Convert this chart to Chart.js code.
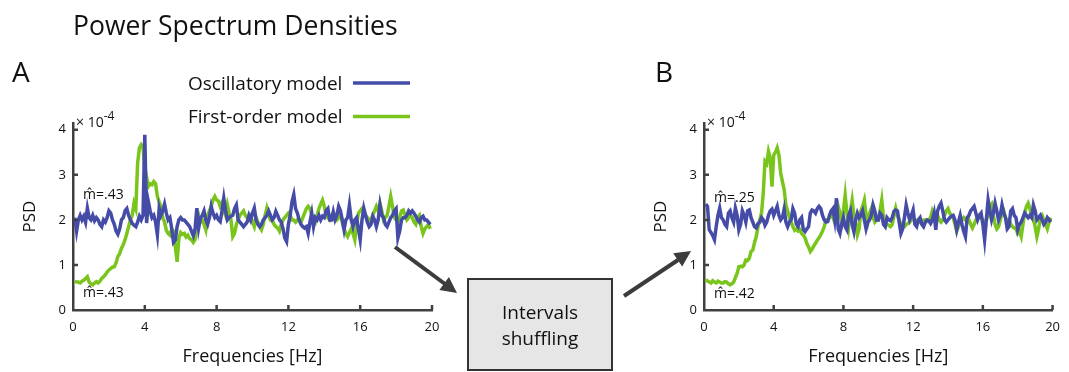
<!DOCTYPE html>
<html>
<head>
<meta charset="utf-8">
<script src="https://cdn.jsdelivr.net/npm/chart.js@4.4.0/dist/chart.umd.min.js"></script>
<style>
  html, body { margin: 0; padding: 0; background: #fff; }
  #page { position: relative; width: 1069px; height: 372px; overflow: hidden; font-family: 'Open Sans', sans-serif; }
  .panel { position: absolute; top: 100px; }
  #panelA { left: 0; }
  #panelB { left: 631px; }
  #overlay { position: absolute; left: 0; top: 0; pointer-events: none; }
  #overlay text { font-family: 'Open Sans', sans-serif; fill: #111; }
</style>
</head>
<body>
<div id="page">
  <div class="panel" id="panelA"><canvas id="chartA" width="460" height="272"></canvas></div>
  <div class="panel" id="panelB"><canvas id="chartB" width="438" height="272"></canvas></div>
  <svg id="overlay" width="1069" height="372">
    <text x="73" y="35" font-size="26.5">Power Spectrum Densities</text>
    <text x="12" y="82" font-size="28">A</text>
    <text x="655" y="82" font-size="28">B</text>

    <text x="188" y="90" font-size="19">Oscillatory model</text>
    <line x1="353" y1="83" x2="410" y2="83" stroke="#454ca8" stroke-width="3.5"/>
    <text x="188" y="123" font-size="19">First-order model</text>
    <line x1="353" y1="116.5" x2="410" y2="116.5" stroke="#7ac51c" stroke-width="3.5"/>

    <text x="76" y="127" font-size="14">× 10<tspan dy="-7" font-size="12">-4</tspan></text>
    <text x="707" y="127" font-size="14">× 10<tspan dy="-7" font-size="12">-4</tspan></text>

    <text x="83" y="199" font-size="14">m&#770;=.43</text>
    <text x="83" y="297" font-size="14">m&#770;=.43</text>
    <text x="714" y="202" font-size="14">m&#770;=.25</text>
    <text x="714" y="298" font-size="14">m&#770;=.42</text>

    <rect x="468" y="279" width="144" height="91" fill="#e6e6e6" stroke="#333" stroke-width="2"/>
    <text x="540" y="319" font-size="19" text-anchor="middle">Intervals</text>
    <text x="540" y="345" font-size="19" text-anchor="middle">shuffling</text>

    <line x1="395" y1="247" x2="445" y2="284" stroke="#3c3c3c" stroke-width="4"/>
    <polygon points="457,293 439.4,289.9 448.9,277.0" fill="#3c3c3c"/>
    <line x1="624" y1="296" x2="678" y2="260" stroke="#3c3c3c" stroke-width="4"/>
    <polygon points="691,251 682.2,266.6 673.2,253.3" fill="#3c3c3c"/>
  </svg>
</div>
<script>
// PSD values (x 10^-4), one value every 0.1 Hz from 0.1 Hz to 19.9 Hz
const oscA = [
  2.05, 1.75, 2.0, 2.1, 2.0, 2.08, 1.95, 2.26, 2.05, 2.0,
  2.1, 1.98, 2.05, 2.0, 1.9, 1.85, 2.0, 1.95, 2.05, 2.2,
  2.15, 2.0, 1.9, 1.75, 1.68, 1.8, 2.0, 2.05, 2.2, 2.25,
  2.1, 2.0, 1.92, 1.88, 1.85, 1.95, 2.08, 2.0, 2.1, 3.89,
  1.93, 2.4, 2.2, 2.05, 2.1, 1.95, 1.67, 2.26, 2.1, 2.2,
  2.35, 2.15, 2.0, 2.05, 1.8, 1.5, 1.55, 1.85, 2.0, 2.05,
  2.0, 2.0, 1.95, 1.9, 1.85, 1.75, 1.65, 1.8, 2.26, 1.82,
  2.04, 2.1, 2.2, 2.0, 1.9, 2.05, 2.3, 2.15, 2.05, 2.1,
  2.0, 1.96, 2.2, 2.48, 2.2, 2.0, 2.05, 2.08, 2.1, 2.25,
  2.33, 2.0, 1.95, 1.9, 1.85, 1.9, 1.95, 2.1, 2.0, 2.15,
  2.26, 2.0, 1.9, 1.85, 1.9, 2.0, 2.05, 2.1, 2.2, 2.1,
  2.0, 2.05, 2.19, 2.1, 2.0, 1.95, 1.8, 1.6, 1.52, 1.9,
  2.1, 2.4, 2.56, 2.25, 2.15, 2.0, 1.9, 1.85, 1.82, 1.85,
  1.7, 1.95, 2.15, 1.85, 2.05, 2.0, 2.1, 2.0, 2.08, 2.05,
  2.2, 2.25, 2.0, 2.0, 2.18, 2.0, 2.1, 2.3, 2.2, 2.0,
  1.78, 2.0, 2.05, 2.33, 2.0, 1.85, 2.0, 2.05, 1.8, 1.56,
  2.0, 2.26, 2.1, 1.95, 1.85, 1.9, 2.08, 2.0, 1.85, 2.0,
  2.33, 2.1, 2.05, 1.9, 1.85, 1.95, 2.05, 2.1, 2.2, 2.25,
  1.6, 1.75, 2.0, 2.05, 2.05, 2.1, 2.2, 2.15, 2.2, 2.15,
  2.08, 2.0, 1.95, 2.05, 2.08, 2.0, 2.0, 1.95, 1.9
];
const firstA = [
  0.63, 0.62, 0.62, 0.6, 0.64, 0.66, 0.7, 0.74, 0.62, 0.58,
  0.56, 0.6, 0.63, 0.6, 0.64, 0.7, 0.74, 0.78, 0.84, 0.89,
  0.92, 0.95, 0.96, 1.05, 1.19, 1.25, 1.37, 1.45, 1.56, 1.7,
  1.85, 2.0, 2.1, 2.37, 2.25, 3.26, 3.6, 3.67, 3.62, 3.15,
  2.95, 2.74, 2.8, 2.78, 2.85, 2.8, 2.52, 2.4, 2.3, 2.05,
  1.95, 1.77, 1.7, 1.66, 1.8, 1.75, 1.4, 1.07, 1.6, 1.72,
  1.68, 1.7, 1.62, 1.66, 1.58, 1.56, 1.5, 1.56, 2.0, 2.1,
  1.95, 2.0, 1.9, 1.78, 2.1, 2.2, 2.3, 2.45, 2.52, 2.44,
  2.42, 2.3, 2.38, 2.2, 2.1, 2.33, 2.15, 2.0, 1.63, 1.7,
  1.9, 2.0, 2.1, 2.15, 2.2, 2.1, 2.05, 2.0, 2.08, 1.95,
  1.85, 2.05, 1.95, 1.85, 1.78, 1.9, 2.1, 2.26, 2.1, 2.0,
  2.0, 1.9, 1.85, 1.82, 1.75, 1.9, 2.0, 2.05, 2.1, 2.15,
  2.1, 2.0, 2.0, 1.95, 2.0, 1.98, 1.95, 2.05, 2.15, 2.25,
  2.3, 2.25, 2.1, 2.0, 1.95, 2.1, 2.25, 2.35, 2.44, 2.3,
  2.1, 2.05, 2.0, 2.1, 2.15, 2.05, 2.0, 2.05, 2.1, 1.95,
  1.8, 1.7, 1.63, 1.72, 1.8, 1.7, 1.56, 1.9, 2.15, 2.2,
  2.25, 2.2, 2.1, 2.05, 2.0, 2.0, 2.1, 2.2, 2.3, 2.2,
  2.37, 2.2, 2.0, 2.05, 2.1, 2.3, 2.52, 2.3, 2.05, 2.0,
  1.95, 2.05, 2.2, 2.22, 2.1, 2.0, 2.05, 2.1, 2.05, 1.95,
  1.9, 2.05, 2.1, 1.85, 1.7, 1.8, 1.85, 1.9, 1.8
];
const oscB = [
  2.35, 2.3, 1.78, 1.72, 1.65, 1.56, 1.85, 2.1, 2.26, 2.05,
  2.0, 1.9, 1.85, 2.15, 2.2, 2.05, 1.95, 2.26, 2.1, 1.78,
  1.9, 2.2, 2.1, 1.95, 2.2, 2.22, 2.05, 1.95, 1.85, 1.82,
  1.92, 1.95, 2.05, 2.0, 1.88, 1.95, 2.1, 2.2, 2.24, 2.1,
  2.2, 2.3, 2.1, 2.0, 2.05, 2.24, 1.95, 1.85, 1.95, 2.0,
  2.25, 2.15, 1.9, 1.85, 2.0, 2.05, 1.78, 1.74, 1.8, 1.85,
  2.15, 2.22, 2.2, 2.15, 2.25, 2.3, 2.25, 2.1, 2.0, 1.95,
  1.96, 2.1, 2.2, 2.25, 2.0, 2.48, 1.8, 1.7, 1.9, 2.05,
  1.85, 1.78, 2.1, 2.2, 1.9, 1.74, 2.0, 2.15, 2.05, 2.1,
  2.2, 2.0, 1.8, 1.95, 2.0, 2.1, 2.33, 2.2, 2.0, 2.0,
  2.15, 2.1, 1.9, 1.85, 2.05, 2.0, 1.98, 2.05, 2.19, 2.22,
  2.2, 1.95, 1.7, 1.8, 2.05, 2.33, 2.15, 2.0, 2.1, 2.22,
  1.9, 1.85, 2.0, 2.05, 1.9, 1.85, 1.95, 2.0, 1.98, 1.92,
  2.0, 2.15, 1.78, 2.2, 2.3, 2.37, 2.2, 2.0, 1.95, 2.0,
  2.05, 2.08, 2.1, 2.0, 1.78, 1.95, 2.1, 1.9, 1.75, 1.63,
  2.05, 2.1, 2.2, 2.25, 2.3, 2.15, 2.0, 2.1, 2.15, 1.9,
  1.56, 2.0, 2.44, 2.2, 2.0, 2.15, 2.37, 2.2, 2.0, 2.1,
  2.33, 2.15, 2.05, 1.8, 1.85, 2.2, 2.25, 2.1, 2.05, 1.78,
  1.9, 1.95, 2.05, 2.15, 2.1, 2.05, 2.1, 2.05, 2.33, 2.2,
  2.0, 2.05, 2.1, 2.0, 1.9, 1.95, 2.05, 2.0, 1.95
];
const firstB = [
  0.68, 0.64, 0.62, 0.6, 0.65, 0.62, 0.6, 0.64, 0.62, 0.6,
  0.6, 0.63, 0.62, 0.58, 0.56, 0.58, 0.62, 0.72, 0.81, 0.96,
  0.97, 0.96, 1.0, 1.11, 1.1, 1.15, 1.3, 1.33, 1.5, 1.63,
  1.85, 2.0, 2.15, 2.6, 3.3, 3.25, 3.52, 3.37, 2.74, 3.44,
  3.5, 3.6, 3.44, 3.04, 2.85, 2.67, 2.33, 2.2, 2.05, 1.95,
  1.85, 1.77, 1.8, 1.75, 1.78, 1.7, 1.66, 1.6, 1.48, 1.4,
  1.3, 1.35, 1.42, 1.48, 1.55, 1.6, 1.67, 1.75, 1.85, 2.0,
  2.0, 2.05, 2.15, 2.05, 1.95, 2.0, 2.3, 2.15, 1.95, 2.2,
  2.55, 2.15, 1.85, 2.2, 2.44, 2.1, 1.95, 1.67, 1.8, 2.2,
  2.3, 2.44, 2.1, 1.95, 2.15, 2.25, 2.05, 1.95, 2.0, 2.0,
  2.2, 2.44, 2.05, 1.95, 1.9, 1.88, 1.85, 1.9, 2.1, 2.26,
  2.1, 2.0, 1.9, 1.85, 1.85, 1.9, 1.92, 1.95, 2.0, 2.05,
  2.0, 1.98, 2.0, 1.95, 1.98, 2.0, 2.0, 1.97, 2.0, 2.05,
  2.2, 2.1, 2.05, 2.1, 2.0, 1.95, 2.0, 2.1, 2.2, 2.25,
  2.15, 2.1, 2.05, 1.9, 1.75, 1.85, 1.95, 2.0, 2.05, 2.0,
  1.95, 2.0, 1.9, 1.82, 1.9, 2.0, 2.05, 2.1, 2.05, 2.0,
  1.95, 2.0, 2.1, 2.3, 2.35, 2.1, 1.9, 1.8, 1.85, 2.0,
  2.15, 2.2, 2.05, 1.95, 2.0, 1.9, 1.85, 1.82, 1.8, 1.7,
  1.75, 1.63, 1.9, 2.15, 2.3, 2.37, 2.25, 2.1, 2.0, 1.85,
  1.63, 1.8, 2.05, 2.1, 2.0, 1.9, 1.8, 1.95, 2.05
];
const freqStart = 0.1;
const freqStep = 0.1;
const xTicks = [0, 4, 8, 12, 16, 20];
const yTicks = [0, 1, 2, 3, 4];

const BLUE = '#454ca8';
const GREEN = '#7ac51c';
const AXIS = '#404040';

function toPoints(values) {
  return values.map((v, i) => ({ x: +(freqStart + i * freqStep).toFixed(1), y: v }));
}

// matlab style ticks pointing into the plot
const inwardTicks = {
  id: 'inwardTicks',
  afterDraw(chart) {
    const { ctx, chartArea, scales: { x, y } } = chart;
    ctx.save();
    ctx.strokeStyle = AXIS;
    ctx.lineWidth = 2.5;
    ctx.beginPath();
    xTicks.slice(1).forEach(v => {
      const px = x.getPixelForValue(v);
      ctx.moveTo(px, chartArea.bottom);
      ctx.lineTo(px, chartArea.bottom - 5);
    });
    yTicks.slice(1).forEach(v => {
      const py = y.getPixelForValue(v);
      ctx.moveTo(chartArea.left, py);
      ctx.lineTo(chartArea.left + 5, py);
    });
    ctx.stroke();
    ctx.restore();
  }
};

function makeChart(id, osc, first, padRight) {
  const ctx = document.getElementById(id).getContext('2d');
  return new Chart(ctx, {
    type: 'line',
    data: {
      datasets: [
        { label: 'Oscillatory model', data: toPoints(osc), borderColor: BLUE, borderWidth: 3.5, pointRadius: 0, tension: 0, fill: false },
        { label: 'First-order model', data: toPoints(first), borderColor: GREEN, borderWidth: 3.5, pointRadius: 0, tension: 0, fill: false }
      ]
    },
    options: {
      responsive: false,
      animation: false,
      devicePixelRatio: 1,
      layout: { padding: { left: 10, right: padRight, top: 23, bottom: 0 } },
      plugins: { legend: { display: false }, tooltip: { enabled: false } },
      scales: {
        x: {
          type: 'linear',
          min: 0,
          max: 20,
          afterBuildTicks: s => { s.ticks = xTicks.map(v => ({ value: v })); },
          afterFit: s => { s.height = 62; },
          ticks: { color: '#111', padding: 9, font: { family: 'Open Sans', size: 13 } },
          grid: { display: false, drawTicks: false },
          border: { display: true, color: AXIS, width: 2.5 },
          title: { display: true, text: 'Frequencies [Hz]', color: '#111', font: { family: 'Open Sans', size: 18 }, padding: { top: 0, bottom: 4 } }
        },
        y: {
          min: 0,
          max: 4.15,
          afterBuildTicks: s => { s.ticks = yTicks.map(v => ({ value: v })); },
          afterFit: s => { s.width = 63; },
          ticks: { color: '#111', padding: 7, font: { family: 'Open Sans', size: 13 } },
          grid: { display: false, drawTicks: false },
          border: { display: true, color: AXIS, width: 2.5 },
          title: { display: true, text: 'PSD', color: '#111', font: { family: 'Open Sans', size: 17 }, padding: { top: 10, bottom: 0 } }
        }
      }
    },
    plugins: [inwardTicks]
  });
}

makeChart('chartA', oscA, firstA, 28);
makeChart('chartB', oscB, firstB, 7);
</script>
</body>
</html>
